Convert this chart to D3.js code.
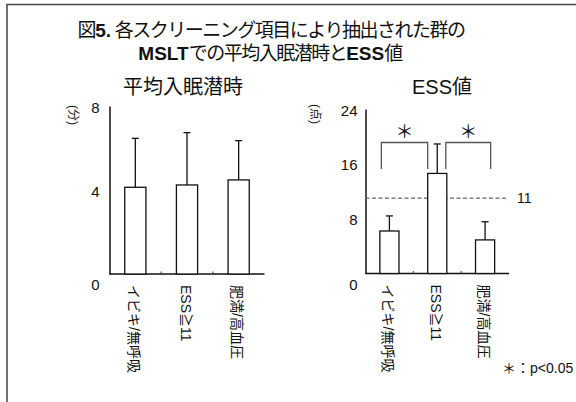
<!DOCTYPE html>
<html>
<head>
<meta charset="utf-8">
<script src="https://cdn.jsdelivr.net/npm/d3@7/dist/d3.min.js"></script>
<style>
  html, body { margin: 0; padding: 0; background: #fff; }
  svg { display: block; }
  text { font-family: "Liberation Sans", "Noto Sans CJK JP", sans-serif; fill: #111; }
</style>
</head>
<body>
<svg id="chart" width="576" height="402"></svg>
<script>
// Groups picked out by each screening item
const categories = ["イビキ/無呼吸", "ESS≧11", "肥満/高血圧"];

// Mean sleep latency on MSLT (minutes)
const latencyMean = [4.13, 4.24, 4.48];
const latencyUpper = [6.46, 6.73, 6.35];
const latencyTicks = [0, 4, 8];

// ESS score (points)
const essMean = [6.2, 14.6, 4.9];
const essUpper = [8.4, 18.9, 7.55];
const essTicks = [0, 8, 16, 24];
const essCutoff = 11;

// Significant pairs (category indices)
const sigPairs = [[0, 1], [1, 2]];

const svg = d3.select("#chart");

// outer frame (top and left edges)
svg.append("path")
  .attr("d", "M7,402V4.5H576")
  .attr("fill", "none")
  .attr("stroke", "#444")
  .attr("stroke-width", 1.5);

// title: CJK runs set tight, Latin runs in bold with normal spacing
const title = svg.append("g").attr("font-size", 19);
function titleLine(yPos, xPos, parts) {
  const t = title.append("text").attr("x", xPos).attr("y", yPos).attr("text-anchor", "middle");
  parts.forEach(([s, bold]) => {
    t.append("tspan")
      .attr("font-weight", bold ? "bold" : null)
      .attr("letter-spacing", bold ? 0 : -1.5)
      .text(s);
  });
}
titleLine(37, 271, [["図", false], ["5.", true], ["  各スクリーニング項目により抽出された群の", false]]);
titleLine(60, 270, [["MSLT", true], ["での平均入眠潜時と", false], ["ESS", true], ["値", false]]);

function panel(opts) {
  const g = svg.append("g");
  const y = d3.scaleLinear().domain(opts.domain).range([opts.y0, opts.y1]);
  const x = d3.scaleBand().domain(categories).range([opts.x0, opts.x1]);
  const bw = x.bandwidth() * opts.barFrac;
  const cx = d => x(d) + x.bandwidth() / 2;

  // subtitle
  g.append("text")
    .attr("x", opts.titleX).attr("y", 94)
    .attr("text-anchor", "middle")
    .attr("font-size", 20)
    .text(opts.title);

  // unit label
  g.append("text")
    .attr("transform", `translate(${opts.unitX},${opts.unitY}) rotate(90)`)
    .attr("dy", "0.35em")
    .attr("font-size", 12)
    .text(opts.unit);

  // y axis
  const ya = g.append("g")
    .attr("transform", `translate(${opts.x0},0)`)
    .call(d3.axisLeft(y).tickValues(opts.ticks).tickSize(0).tickPadding(opts.tickPad).tickFormat(d3.format("d")));
  ya.select(".domain").attr("stroke", "#111").attr("stroke-width", 1.5);
  ya.selectAll(".tick text")
    .attr("font-size", 15)
    .attr("font-family", "Liberation Sans, sans-serif")
    .attr("fill", "#111")
    .attr("dy", d => d === 0 ? "1.05em" : "0.4em");

  // baseline
  g.append("line")
    .attr("x1", opts.x0).attr("x2", opts.x1)
    .attr("y1", y(0)).attr("y2", y(0))
    .attr("stroke", "#111").attr("stroke-width", 1.5);

  // small separators between categories
  g.selectAll("line.sep")
    .data(categories.slice(1))
    .join("line")
    .attr("class", "sep")
    .attr("x1", d => x(d)).attr("x2", d => x(d))
    .attr("y1", y(0)).attr("y2", y(0) - 2.5)
    .attr("stroke", "#333").attr("stroke-width", 1);

  // reference line
  if (opts.cutoff != null) {
    g.append("line")
      .attr("x1", opts.x0).attr("x2", opts.x1 - 3)
      .attr("y1", y(opts.cutoff)).attr("y2", y(opts.cutoff))
      .attr("stroke", "#666").attr("stroke-width", 1.2)
      .attr("stroke-dasharray", "4,2.5");
    g.append("text")
      .attr("x", opts.x1 + 8).attr("y", y(opts.cutoff))
      .attr("dy", "0.35em")
      .attr("font-size", 14)
      .text(opts.cutoff);
  }

  // error bars
  g.selectAll("line.err")
    .data(categories)
    .join("line")
    .attr("class", "err")
    .attr("x1", d => cx(d)).attr("x2", d => cx(d))
    .attr("y1", (d, i) => y(opts.mean[i])).attr("y2", (d, i) => y(opts.upper[i]))
    .attr("stroke", "#111").attr("stroke-width", 1.3);
  g.selectAll("line.cap")
    .data(categories)
    .join("line")
    .attr("class", "cap")
    .attr("x1", d => cx(d) - 3.5).attr("x2", d => cx(d) + 3.5)
    .attr("y1", (d, i) => y(opts.upper[i])).attr("y2", (d, i) => y(opts.upper[i]))
    .attr("stroke", "#111").attr("stroke-width", 1.3);

  // bars
  g.selectAll("rect.bar")
    .data(categories)
    .join("rect")
    .attr("class", "bar")
    .attr("x", d => cx(d) - bw / 2)
    .attr("width", bw)
    .attr("y", (d, i) => y(opts.mean[i]))
    .attr("height", (d, i) => y(0) - y(opts.mean[i]))
    .attr("fill", "#fff")
    .attr("stroke", "#111").attr("stroke-width", 1.3);

  // significance brackets
  if (opts.pairs) {
    const top = opts.bracketTop, bot = opts.bracketBottom;
    opts.pairs.forEach(([a, b], k) => {
      const xa = k === 0 ? cx(categories[a]) - bw / 2 + 1.5 : cx(categories[a]) + bw / 2 - 1;
      const xb = k === 0 ? cx(categories[b]) - bw / 2 : cx(categories[b]) + bw / 2 - 4;
      g.append("path")
        .attr("d", `M${xa},${bot}V${top}H${xb}V${bot}`)
        .attr("fill", "none")
        .attr("stroke", "#555").attr("stroke-width", 1.3);
      g.append("text")
        .attr("x", (xa + xb) / 2).attr("y", top - 11)
        .attr("dy", "0.35em")
        .attr("text-anchor", "middle")
        .attr("font-size", 18)
        .attr("font-family", "Noto Sans CJK JP, sans-serif")
        .text("＊");
    });
  }

  // category labels (vertical)
  g.selectAll("text.cat")
    .data(categories)
    .join("text")
    .attr("class", "cat")
    .attr("transform", d => `translate(${cx(d) - 1.5},${y(0) + 11}) rotate(90)`)
    .attr("dy", "0.35em")
    .attr("font-size", 14)
    .text(d => d);

  return { x, y };
}

// left panel: mean sleep latency
panel({
  title: "平均入眠潜時", titleX: 183,
  unit: "(分)", unitX: 73, unitY: 105,
  domain: [0, 8], ticks: latencyTicks,
  y0: 274, y1: 106, x0: 109.5, x1: 264.5,
  barFrac: 0.41, tickPad: 10,
  mean: latencyMean, upper: latencyUpper
});

// right panel: ESS score
panel({
  title: "ESS値", titleX: 442,
  unit: "(点)", unitX: 315, unitY: 104,
  domain: [0, 24], ticks: essTicks,
  y0: 273.5, y1: 109, x0: 365.5, x1: 509,
  barFrac: 0.4, tickPad: 8,
  mean: essMean, upper: essUpper,
  cutoff: essCutoff,
  pairs: sigPairs, bracketTop: 142.5, bracketBottom: 169
});

// significance note
svg.append("text")
  .attr("x", 502).attr("y", 373)
  .attr("font-size", 14)
  .text("＊：p<0.05");
</script>
</body>
</html>
